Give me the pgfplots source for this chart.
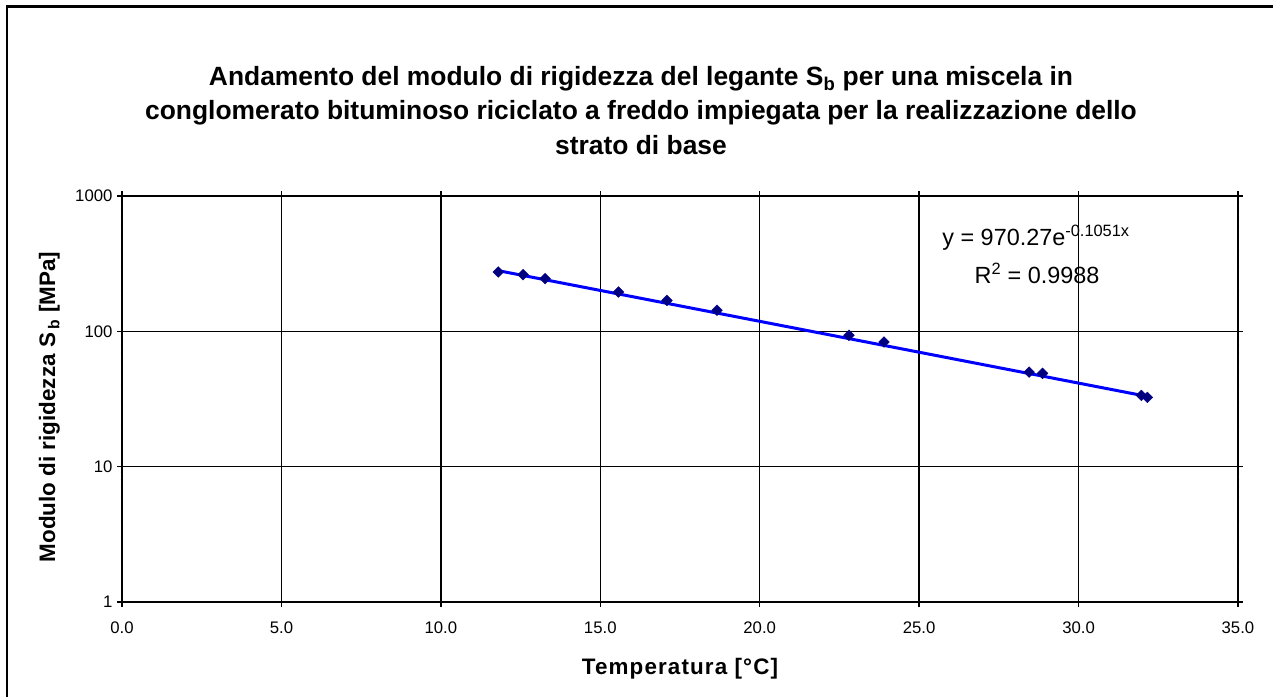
\documentclass[border=0pt]{standalone}
\usepackage{pgfplots}
\pgfplotsset{compat=1.18}
\usepackage{fontspec}
\setmainfont{Liberation Sans}
\definecolor{navy}{HTML}{000080}
\definecolor{trend}{HTML}{0000FF}
\begin{document}
\begin{tikzpicture}[x=1bp,y=1bp]
\useasboundingbox (0,0) rectangle (1273,697);
\draw[line width=2.4bp] (7,0) -- (7,690.5) -- (1273,690.5);
\node[font=\fontsize{26.5}{30}\selectfont\bfseries, anchor=base] at (641,611) {Andamento del modulo di rigidezza del legante S\textsubscript{b} per una miscela in};
\node[font=\fontsize{26.5}{30}\selectfont\bfseries, anchor=base] at (641,577) {conglomerato bituminoso riciclato a freddo impiegata per la realizzazione dello};
\node[font=\fontsize{26.5}{30}\selectfont\bfseries, anchor=base] at (641,542) {strato di base};
\begin{axis}[at={(122bp,95bp)}, anchor=south west, scale only axis,
  width=1116bp, height=406bp,
  xmin=0, xmax=35, ymode=log, ymin=1, ymax=1000,
  xtick={0,5,10,15,20,25,30,35},
  ytick={1,10,100,1000}, yticklabels={1,10,100,1000},
  minor ytick={}, yminorgrids=false,
  grid=major, major grid style={black, line width=1.4bp},
  axis line style={black, line width=1.4bp},
  tick style={black, line width=1.4bp}, tick align=center, major tick length=10bp,
  xticklabel style={/pgf/number format/fixed, /pgf/number format/fixed zerofill, /pgf/number format/precision=1, yshift=-11bp},
  /pgf/number format/assume math mode=true,
  ticklabel style={font=\fontsize{16.8}{20}\selectfont},
  yticklabel style={xshift=-1bp},
  clip=false]
\addplot[trend, line width=3bp] coordinates {(11.8,280.7) (32.16,33.02)};
\addplot[only marks, mark=square*, mark size=3.8bp, mark options={rotate=45, fill=navy, draw=navy}] coordinates {
(11.8,274) (12.58,262) (13.27,245) (15.57,195) (17.09,169) (18.66,143)
(22.8,93.4) (23.9,83.4) (28.45,50) (28.87,48.9) (31.97,33.6) (32.16,32.5)};
\end{axis}
\node[font=\fontsize{23.5}{26}\selectfont, anchor=base] at (1036,451) {y = 970.27e\textsuperscript{-0.1051x}};
\node[font=\fontsize{23.5}{26}\selectfont, anchor=base] at (1037,413) {R\textsuperscript{2} = 0.9988};
\node[font=\fontsize{22.5}{26}\selectfont\bfseries\addfontfeature{LetterSpace=5}, anchor=base] at (680,22) {Temperatura [°C]};
\node[font=\fontsize{22.5}{26}\selectfont\bfseries, anchor=base, rotate=90] at (55,290) {Modulo di rigidezza S\,\textsubscript{b} [MPa]};
\end{tikzpicture}
\end{document}
